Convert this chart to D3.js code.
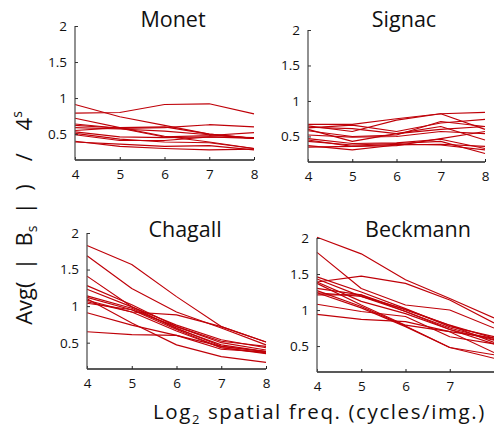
<!DOCTYPE html>
<html><head><meta charset="utf-8">
<script src="https://cdn.jsdelivr.net/npm/d3@7"></script>
<style>body{margin:0;background:#fff}svg{display:block}text{font-family:"Open Sans",sans-serif}</style>
</head><body>
<svg id="c" width="494" height="427"></svg>
<script>
const freqs = [4, 5, 6, 7, 8];
const yTicks = [0.5, 1, 1.5, 2];
const titles = ["Monet", "Signac", "Chagall", "Beckmann"];

const monet = [
  [0.91, 0.74, 0.62, 0.50, 0.44],
  [0.79, 0.80, 0.91, 0.92, 0.78],
  [0.72, 0.59, 0.47, 0.39, 0.30],
  [0.64, 0.58, 0.59, 0.63, 0.60],
  [0.62, 0.58, 0.46, 0.48, 0.52],
  [0.59, 0.57, 0.54, 0.49, 0.44],
  [0.53, 0.46, 0.45, 0.46, 0.45],
  [0.51, 0.43, 0.39, 0.38, 0.30],
  [0.40, 0.33, 0.30, 0.28, 0.29],
  [0.39, 0.36, 0.33, 0.34, 0.28],
  [0.49, 0.41, 0.41, 0.46, 0.44],
  [0.55, 0.59, 0.60, 0.50, 0.44]
];
const signac = [
  [0.67, 0.67, 0.75, 0.82, 0.60],
  [0.65, 0.57, 0.73, 0.82, 0.84],
  [0.62, 0.66, 0.57, 0.69, 0.74],
  [0.58, 0.50, 0.52, 0.71, 0.64],
  [0.60, 0.43, 0.54, 0.64, 0.45],
  [0.52, 0.49, 0.50, 0.57, 0.54],
  [0.47, 0.40, 0.41, 0.46, 0.33],
  [0.43, 0.38, 0.40, 0.43, 0.26],
  [0.37, 0.31, 0.38, 0.39, 0.36],
  [0.35, 0.36, 0.39, 0.38, 0.31],
  [0.45, 0.36, 0.37, 0.47, 0.57],
  [0.63, 0.61, 0.54, 0.60, 0.64]
];
const chagall = [
  [1.83, 1.57, 1.13, 0.72, 0.51],
  [1.69, 1.24, 0.92, 0.70, 0.47],
  [1.41, 0.99, 0.74, 0.54, 0.43],
  [1.28, 1.02, 0.72, 0.50, 0.40],
  [1.23, 0.99, 0.69, 0.47, 0.38],
  [1.14, 0.97, 0.70, 0.45, 0.38],
  [1.12, 0.95, 0.68, 0.43, 0.36],
  [1.08, 0.92, 0.66, 0.43, 0.35],
  [1.06, 0.92, 0.88, 0.72, 0.51],
  [1.04, 0.95, 0.72, 0.52, 0.45],
  [0.91, 0.74, 0.60, 0.45, 0.38],
  [0.65, 0.61, 0.60, 0.41, 0.37],
  [1.10, 0.77, 0.47, 0.31, 0.23]
];
const beckmann = [
  [2.01, 1.78, 1.42, 1.16, 0.89],
  [1.80, 1.30, 1.07, 1.00, 0.75],
  [1.39, 1.47, 1.37, 1.14, 0.82],
  [1.46, 1.25, 1.02, 0.77, 0.63],
  [1.43, 1.19, 0.98, 0.75, 0.59],
  [1.39, 1.12, 0.95, 0.73, 0.58],
  [1.37, 1.07, 0.79, 0.70, 0.61],
  [1.30, 1.21, 1.00, 0.79, 0.55],
  [1.24, 1.19, 1.01, 0.79, 0.61],
  [1.21, 1.21, 0.98, 0.73, 0.53],
  [1.08, 0.98, 0.91, 0.63, 0.53],
  [0.94, 0.87, 0.84, 0.70, 0.41],
  [1.24, 1.03, 0.77, 0.48, 0.38],
  [1.27, 1.05, 0.78, 0.48, 0.33]
];
const series = [monet, signac, chagall, beckmann];

// layout (pixel geometry of each panel)
const panels = [
  {x0: 75,  x1: 254, top: 26,  bottom: 160, tx: 173, ty: 27,  xt: [4,5,6,7,8]},
  {x0: 308, x1: 485, top: 30,  bottom: 162, tx: 404, ty: 27,  xt: [4,5,6,7,8]},
  {x0: 87,  x1: 266, top: 233, bottom: 369, tx: 185, ty: 237, xt: [4,5,6,7,8]},
  {x0: 317, x1: 494, top: 238, bottom: 372, tx: 418, ty: 237, xt: [4,5,6,7]}
];
const yMin = 0.14, yMax = 2;
const lineColor = "#bf0008";

const svg = d3.select("#c");

panels.forEach((p, i) => {
  const x = d3.scaleLinear().domain([4, 8]).range([p.x0, p.x1]);
  const y = d3.scaleLinear().domain([yMin, yMax]).range([p.bottom, p.top]);
  const g = svg.append("g");

  const line = d3.line().x((d, j) => x(freqs[j])).y(d => y(d));
  g.selectAll("path.l").data(series[i]).join("path")
    .attr("class", "l")
    .attr("d", line)
    .attr("fill", "none")
    .attr("stroke", lineColor)
    .attr("stroke-width", 1.15)
    .attr("stroke-linejoin", "round");

  // x axis
  const xa = g.append("g").attr("transform", `translate(0,${p.bottom})`)
    .call(d3.axisBottom(x).tickValues(p.xt).tickSize(-3).tickPadding(7).tickFormat(d3.format("d")));
  xa.select(".domain").attr("stroke", "#222").attr("stroke-width", 1.3).attr("d", `M${p.x0},0H${p.x1}`);
  xa.selectAll(".tick line").attr("stroke", "#222");
  xa.selectAll(".tick text").attr("font-size", 13.5).attr("fill", "#111").attr("dy", "0.9em");

  // y axis
  const ya = g.append("g").attr("transform", `translate(${p.x0},0)`)
    .call(d3.axisLeft(y).tickValues(yTicks).tickSize(-3).tickPadding(8).tickFormat(d => d));
  ya.select(".domain").attr("stroke", "#555").attr("stroke-width", 1.3).attr("d", `M0,${p.bottom}V${p.top}`);
  ya.selectAll(".tick line").attr("stroke", "#333");
  ya.selectAll(".tick text").attr("font-size", 13.5).attr("fill", "#111");

  g.append("text").attr("x", p.tx).attr("y", p.ty)
    .attr("text-anchor", "middle").attr("font-size", 21.5).attr("fill", "#111")
    .text(titles[i]);
});

// y label
const yl = svg.append("text")
  .attr("transform", "translate(32,218) rotate(-90)")
  .attr("text-anchor", "middle").attr("font-size", 22).attr("fill", "#111")
  .attr("xml:space", "preserve");
yl.append("tspan").text("Avg(  |  B");
yl.append("tspan").attr("font-size", 14).attr("dy", 5).text("s");
yl.append("tspan").attr("dy", -5).text("  |  )    /    4");
yl.append("tspan").attr("font-size", 14).attr("dy", -10).text("s");

// x label
const xl = svg.append("text")
  .attr("x", 153).attr("y", 419)
  .attr("font-size", 20.5).attr("letter-spacing", 1.6).attr("fill", "#111");
xl.append("tspan").text("Log");
xl.append("tspan").attr("font-size", 13).attr("dy", 5).text("2");
xl.append("tspan").attr("dy", -5).text(" spatial freq. (cycles/img.)");
</script>
</body></html>
